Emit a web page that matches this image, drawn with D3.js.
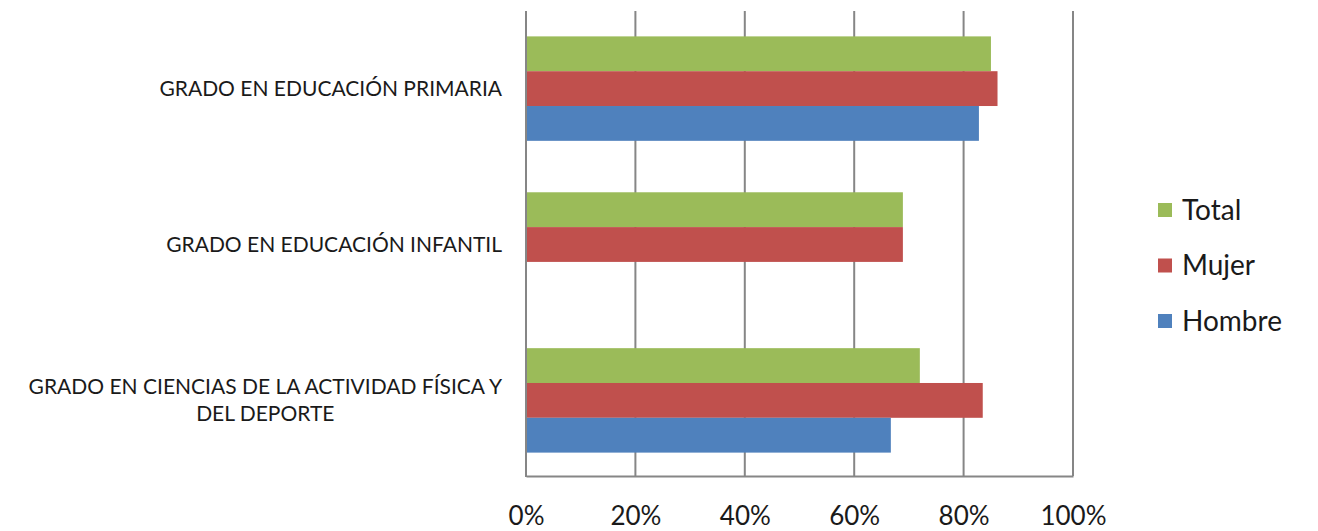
<!DOCTYPE html>
<html lang="es">
<head>
<meta charset="UTF-8">
<title>Grados - Total / Mujer / Hombre</title>
<script src="https://cdn.jsdelivr.net/npm/d3@7"></script>
<style>
  html, body { margin: 0; padding: 0; background: #fff; overflow: hidden; }
  svg { display: block; font-family: Lato, "Open Sans", sans-serif; }
</style>
</head>
<body>
<svg id="chart" width="1318" height="531"></svg>
<script>
// datos
const categories = [
  ["GRADO EN EDUCACIÓN PRIMARIA"],
  ["GRADO EN EDUCACIÓN INFANTIL"],
  ["GRADO EN CIENCIAS DE LA ACTIVIDAD FÍSICA Y", "DEL DEPORTE"]
];
const series = ["Total", "Mujer", "Hombre"];
const totalValues  = [0.85, 0.689, 0.72];
const mujerValues  = [0.862, 0.689, 0.835];
const hombreValues = [0.828, null, 0.667];
const xTicks = [0, 0.2, 0.4, 0.6, 0.8, 1.0];
const colors = ["#9bbb59", "#c0504d", "#4f81bd"];

const valuesBySeries = [totalValues, mujerValues, hombreValues];

const svg = d3.select("#chart");
const m = {left: 526, right: 1073, top: 13, bottom: 476};

const x = d3.scaleLinear().domain([0, 1]).range([m.left, m.right]);
const y = d3.scaleBand()
  .domain(d3.range(categories.length))
  .range([m.top, m.bottom])
  .paddingInner(0.33)
  .paddingOuter(0.15);
const ySub = d3.scaleBand().domain(series).range([0, y.bandwidth()]);
const color = d3.scaleOrdinal().domain(series).range(colors);

// rejilla vertical
svg.append("g")
  .selectAll("line")
  .data(xTicks.slice(1))
  .join("line")
  .attr("x1", d => x(d)).attr("x2", d => x(d))
  .attr("y1", 11).attr("y2", m.bottom)
  .attr("stroke", "#868686").attr("stroke-width", 2);

// barras
const rows = [];
categories.forEach((c, i) => {
  series.forEach((s, j) => {
    const v = valuesBySeries[j][i];
    if (v != null) rows.push({cat: i, s, v});
  });
});
svg.append("g")
  .selectAll("rect")
  .data(rows)
  .join("rect")
  .attr("x", x(0))
  .attr("y", d => y(d.cat) + ySub(d.s))
  .attr("width", d => x(d.v) - x(0))
  .attr("height", ySub.bandwidth())
  .attr("fill", d => color(d.s));

// ejes
const xAxis = d3.axisBottom(x).tickValues(xTicks).tickFormat(d3.format(".0%")).tickSize(0).tickPadding(0);
const gx = svg.append("g").attr("transform", `translate(0,${m.bottom})`).call(xAxis);
gx.select(".domain").attr("stroke", "#868686").attr("stroke-width", 2);
gx.selectAll("text").attr("font-size", 26).attr("fill", "#1a1a1a")
  .attr("font-family", "Lato, sans-serif")
  .attr("y", 49).attr("dy", null);

svg.append("line")
  .attr("x1", m.left).attr("x2", m.left).attr("y1", 11).attr("y2", m.bottom + 1)
  .attr("stroke", "#868686").attr("stroke-width", 2);

// etiquetas de categoría
const labels = svg.append("g").attr("font-size", 21).attr("fill", "#1a1a1a");
categories.forEach((lines, i) => {
  const cy = y(i) + y.bandwidth() / 2;
  const t = labels.append("text").attr("y", cy - (lines.length - 1) * 13.5);
  if (lines.length === 1) {
    t.attr("x", 502).attr("dy", "0.35em").attr("text-anchor", "end").text(lines[0]);
  } else {
    // texto centrado en un bloque que termina en x=502
    const tmp = labels.append("text").text(lines[0]);
    const w = tmp.node().getComputedTextLength();
    tmp.remove();
    const cx = 502 - w / 2;
    t.attr("text-anchor", "middle");
    lines.forEach((ln, k) => {
      t.append("tspan").attr("x", cx).attr("dy", k === 0 ? "0.35em" : 27).text(ln);
    });
  }
});

// leyenda
const legend = svg.append("g").attr("transform", "translate(1158,210)");
const item = legend.selectAll("g").data(series).join("g")
  .attr("transform", (d, i) => `translate(0,${i * 55.5})`);
item.append("rect").attr("x", 0).attr("y", -7).attr("width", 14).attr("height", 14)
  .attr("fill", d => color(d));
item.append("text").attr("x", 24).attr("dy", "0.35em").attr("font-size", 28)
  .attr("fill", "#1a1a1a").text(d => d);
</script>
</body>
</html>
